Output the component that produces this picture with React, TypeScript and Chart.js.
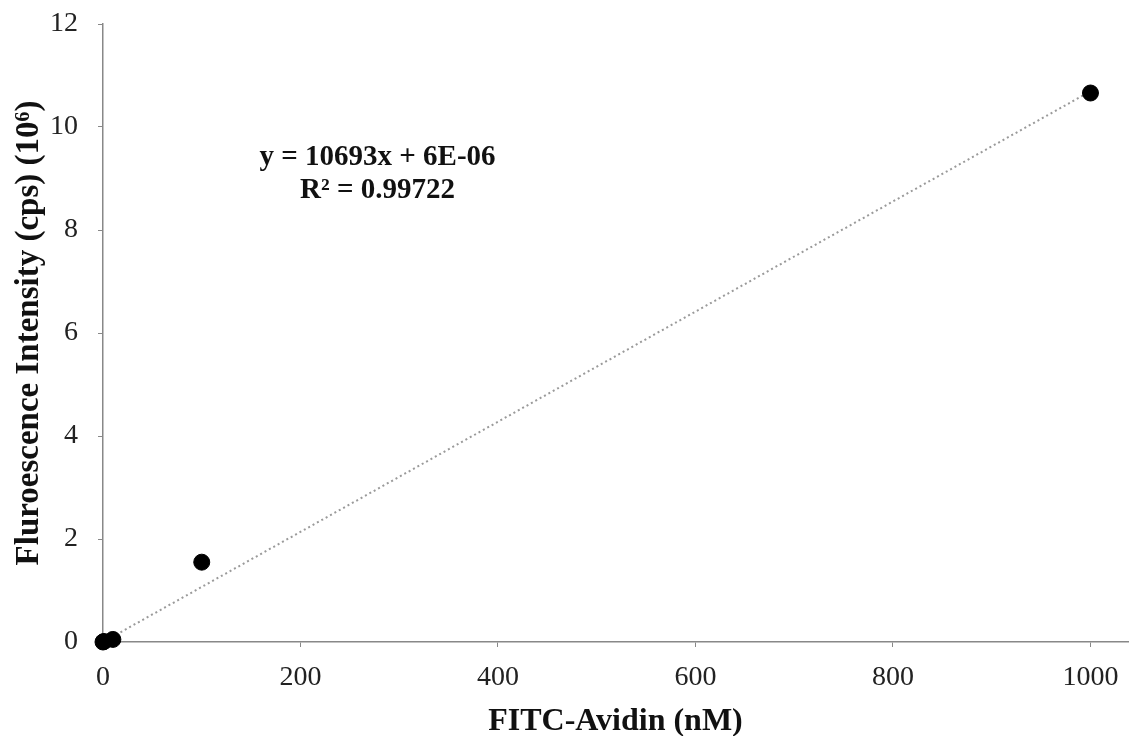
import React, { useEffect, useRef } from "react";
import { Chart, registerables } from "chart.js";

Chart.register(...registerables);

const concentrations = [0, 1, 10, 100, 1000];
const intensities = [0, 0.01, 0.05, 1.55, 10.66];
const trendX = [0, 1000];
const slope = 0.010693;
const intercept = 0.000006;
const xTicks = [0, 200, 400, 600, 800, 1000];
const yTicks = [0, 2, 4, 6, 8, 10, 12];
const equationLines = ["y = 10693x + 6E-06", "R² = 0.99722"];
const xTitle = "FITC-Avidin (nM)";
const yTitle = "Fluroescence Intensity (cps) (10⁶)";

const FONT = "'Liberation Serif', 'Times New Roman', serif";

const annotationPlugin = {
  id: "eqnLabel",
  afterDatasetsDraw(chart: any) {
    const { ctx, scales } = chart;
    const x = scales.x.getPixelForValue(278);
    const y1 = scales.y.getPixelForValue(9.4);
    const y2 = scales.y.getPixelForValue(8.76);
    ctx.save();
    ctx.fillStyle = "#111";
    ctx.font = `bold 29px ${FONT}`;
    ctx.textAlign = "center";
    ctx.textBaseline = "middle";
    ctx.fillText(equationLines[0], x, y1);
    ctx.fillText(equationLines[1], x, y2);
    ctx.restore();
  },
};

export default function App() {
  const ref = useRef<HTMLCanvasElement>(null);
  useEffect(() => {
    document.body.style.margin = "0";
    const chart = new Chart(ref.current!, {
      type: "scatter",
      data: {
        datasets: [
          {
            type: "line",
            data: trendX.map((x) => ({ x, y: slope * x + intercept })),
            borderColor: "#9a9a9a",
            borderWidth: 2,
            borderDash: [2, 3],
            pointRadius: 0,
            fill: false,
            order: 2,
          } as any,
          {
            data: concentrations.map((x, i) => ({ x, y: intensities[i] })),
            backgroundColor: "#000",
            borderColor: "#000",
            pointRadius: 8,
            pointHoverRadius: 8,
            clip: false,
            order: 1,
          } as any,
        ],
      },
      options: {
        animation: false,
        responsive: true,
        maintainAspectRatio: false,
        layout: { autoPadding: false, padding: { top: 24, right: 2, left: 0, bottom: 0 } },
        plugins: { legend: { display: false }, tooltip: { enabled: false } },
        scales: {
          x: {
            type: "linear",
            min: 0,
            max: 1038,
            afterBuildTicks(scale: any) {
              scale.ticks = xTicks.map((v) => ({ value: v }));
            },
            afterFit(scale: any) {
              scale.height = 94;
              scale.paddingLeft = 0;
              scale.paddingRight = 0;
            },
            ticks: {
              color: "#222",
              font: { family: FONT, size: 28 },
              padding: 14,
              maxRotation: 0,
              callback: (v: any) => String(v),
            },
            grid: {
              drawOnChartArea: false,
              tickLength: 5,
              tickColor: "#888",
            },
            border: { color: "#888", width: 1.5 },
            title: {
              display: true,
              text: xTitle,
              color: "#111",
              font: { family: FONT, size: 32, weight: "bold" },
              padding: { top: 0, bottom: -5 },
            },
          },
          y: {
            type: "linear",
            min: 0,
            max: 12,
            afterBuildTicks(scale: any) {
              scale.ticks = yTicks.map((v) => ({ value: v }));
            },
            afterFit(scale: any) {
              scale.width = 103;
              scale.paddingTop = 0;
              scale.paddingBottom = 0;
            },
            ticks: {
              color: "#222",
              font: { family: FONT, size: 28 },
              padding: 20,
              callback: (v: any) => String(v),
            },
            grid: {
              drawOnChartArea: false,
              tickLength: 5,
              tickColor: "#888",
            },
            border: { color: "#888", width: 1.5 },
            title: {
              display: true,
              text: yTitle,
              color: "#111",
              font: { family: FONT, size: 33, weight: "bold" },
              padding: { top: 10, bottom: 0 },
            },
          },
        },
      },
      plugins: [annotationPlugin],
    });
    return () => chart.destroy();
  }, []);
  return (
    <div style={{ position: "absolute", left: 0, top: 0, width: 1130, height: 736, background: "#fff" }}>
      <canvas ref={ref} />
    </div>
  );
}
